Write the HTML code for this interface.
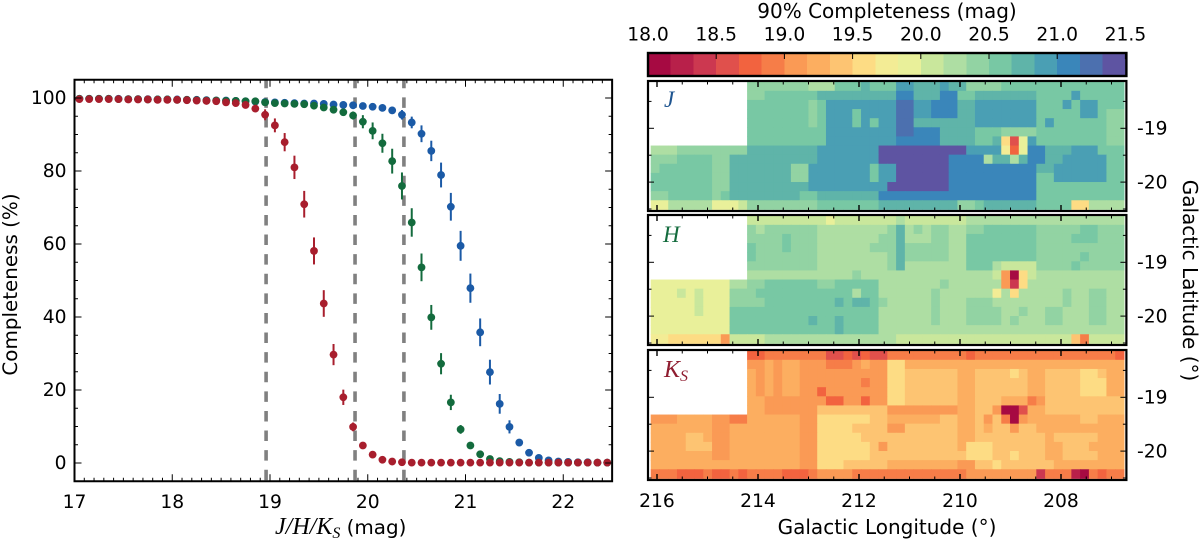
<!DOCTYPE html>
<html lang="en">
<head>
<meta charset="utf-8">
<title>Completeness</title>
<style>
html,body{margin:0;padding:0;background:#fff;width:1200px;height:541px;overflow:hidden}
svg{display:block}
text{font-family:"DejaVu Sans","Liberation Sans",sans-serif;fill:#000}
.math{font-family:"Liberation Serif",serif;font-style:italic}
</style>
</head>
<body>
<svg id="figure" xmlns="http://www.w3.org/2000/svg" width="1200" height="541" viewBox="0 0 1200 541">
  <g id="left-chart"></g>
  <g id="maps"></g>
  <g id="colorbar"></g>
  <text transform="translate(17,284.5) rotate(-90)" text-anchor="middle" font-size="19.9">Completeness (%)</text>
  <text x="275" y="534" font-size="19.9"><tspan class="math" font-size="24">J/H/K</tspan><tspan class="math" font-size="16" dy="4">S</tspan><tspan dy="-4"> (mag)</tspan></text>
  <text x="887" y="18" text-anchor="middle" font-size="20">90% Completeness (mag)</text>
  <text x="887" y="534" text-anchor="middle" font-size="20">Galactic Longitude (°)</text>
  <text transform="translate(1183,280.5) rotate(90)" text-anchor="middle" font-size="20">Galactic Latitude (°)</text>
  <text class="math" x="664" y="107" font-size="23" style="fill:#1f5590">J</text>
  <text class="math" x="663" y="242" font-size="23" style="fill:#136b3d">H</text>
  <text class="math" x="664" y="377" font-size="24" style="fill:#8f1d30">K<tspan font-size="16" dy="4">S</tspan></text>
</svg>
<script>
// ---- completeness curves ----
const magBins = [17.05,17.15,17.25,17.35,17.45,17.55,17.65,17.75,17.85,17.95,18.05,18.15,18.25,18.35,18.45,18.55,18.65,18.75,18.85,18.95,19.05,19.15,19.25,19.35,19.45,19.55,19.65,19.75,19.85,19.95,20.05,20.15,20.25,20.35,20.45,20.55,20.65,20.75,20.85,20.95,21.05,21.15,21.25,21.35,21.45,21.55,21.65,21.75,21.85,21.95,22.05,22.15,22.25,22.35,22.45];
const jCompleteness = [99.8,99.8,99.8,99.8,99.8,99.7,99.7,99.7,99.6,99.6,99.6,99.5,99.5,99.4,99.3,99.3,99.2,99.1,99.0,98.9,98.8,98.7,98.6,98.5,98.5,98.4,98.2,98.1,98,97.8,97.6,97.3,96.6,95.4,93.3,90.2,85.5,78.9,70.2,59.5,47.9,35.8,24.9,16.2,9.9,5.6,2.8,1.4,0.7,0.4,0.3,0.2,0.2,0.1,0.1];
const hCompleteness = [99.8,99.8,99.8,99.8,99.7,99.7,99.7,99.6,99.6,99.6,99.5,99.5,99.4,99.3,99.3,99.2,99.2,99.1,99.1,98.8,98.6,98.5,98.4,98.3,97.9,97.4,96.8,96.1,95.2,93.5,91,87.6,82.7,75.9,65.9,53.6,39.9,27.2,16.6,9.2,4.8,2.4,1.1,0.5,0.3,0.2,0.1,0.1,0.1,0.1,0.1,0.1,0.1,0.1,0.1];
const ksCompleteness = [99.7,99.7,99.7,99.7,99.7,99.6,99.6,99.6,99.5,99.5,99.5,99.4,99.3,99.2,99.1,98.8,98.6,98.1,97.1,95.4,92.5,87.9,81,70.9,58.1,43.7,29.7,18,9.9,4.8,2.3,0.9,0.4,0.2,0.1,0.1,0.1,0.1,0.1,0.1,0.1,0.1,0.1,0.1,0.1,0.1,0.1,0.1,0.1,0.1,0.1,0.1,0.1,0.1,0.1];
const jError = [0.1,0.1,0.1,0.1,0.1,0.1,0.1,0.1,0.1,0.1,0.1,0.1,0.1,0.1,0.1,0.2,0.2,0.2,0.2,0.2,0.2,0.2,0.2,0.2,0.3,0.3,0.3,0.3,0.3,0.4,0.5,0.7,1,1.3,1.6,2.3,2.8,3.4,3.8,4.1,4,3.8,3.4,2.7,1.8,0.9,0.5,0.3,0.2,0.1,0.1,0.1,0.1,0.1,0.1];
const hError = [0.1,0.1,0.1,0.1,0.1,0.1,0.1,0.1,0.1,0.1,0.1,0.1,0.1,0.1,0.1,0.2,0.2,0.2,0.2,0.2,0.3,0.3,0.3,0.3,0.4,0.5,0.6,0.8,1.1,1.8,2.3,2.6,3.4,3.7,3.9,3.8,3.4,2.9,2.1,1.2,0.6,0.3,0.2,0.1,0.1,0.1,0.1,0.1,0.1,0.1,0.1,0.1,0.1,0.1,0.1];
const ksError = [0.1,0.1,0.1,0.1,0.1,0.1,0.1,0.1,0.1,0.1,0.1,0.1,0.1,0.1,0.1,0.3,0.4,0.6,0.9,1.5,1.9,2.5,3.2,3.65,3.7,3.65,2.9,2.1,1.2,0.6,0.3,0.2,0.1,0.1,0.1,0.1,0.1,0.1,0.1,0.1,0.1,0.1,0.1,0.1,0.1,0.1,0.1,0.1,0.1,0.1,0.1,0.1,0.1,0.1,0.1];
const limitMags = [18.96,19.87,20.37];
const xTickLabels = [17,18,19,20,21,22];
const yTickLabels = [0,20,40,60,80,100];

// ---- colour scale ----
const colorbarTicks = [18.0,18.5,19.0,19.5,20.0,20.5,21.0,21.5];
const spectralBins = ['#a60a42','#b8204a','#cc3850','#e0504c','#f2633f','#f67d48','#fa9a55','#fcae60','#fdc472','#fddc84','#f3ec95','#e9f09a','#c9e79c','#aedea3','#92d3a3','#78c8a4','#5fb4a9','#4a9fb4','#3a86ba','#4c70af','#5e54a2'];

// ---- map axes ----
const lonTickLabels = [216,214,212,210,208];
const latTickLabels = [-19,-20];

// ---- 90% completeness maps: tenths of a magnitude per survey cell, 0 = no coverage ----
const jMapCells = [
[0,0,0,0,0,0,0,0,0,0,0,204,204,204,204,204,204,204,203,203,203,206,206,206,208,206,206,206,209,209,208,208,208,209,208,208,204,204,204,204,206,206,206,206,206,206,206,206,206,206,206,206,206,206],
[0,0,0,0,0,0,0,0,0,0,0,204,204,206,206,206,206,206,206,208,208,208,208,208,208,208,208,208,211,211,208,208,208,211,211,206,206,208,208,208,208,208,208,208,206,206,206,206,209,206,206,206,206,206],
[0,0,0,0,0,0,0,0,0,0,0,206,206,206,206,206,206,206,204,206,209,209,209,209,209,209,209,209,213,213,209,209,211,211,211,208,208,209,209,209,209,209,209,209,206,206,206,209,206,209,209,206,206,206],
[0,0,0,0,0,0,0,0,0,0,0,206,206,206,206,206,206,206,204,206,209,209,209,206,209,209,209,209,213,213,209,209,211,211,211,208,208,209,209,209,209,209,209,209,206,206,206,206,206,209,209,206,204,204],
[0,0,0,0,0,0,0,0,0,0,0,206,206,206,206,206,206,206,204,206,209,209,209,206,209,206,209,209,213,213,208,208,208,208,208,208,208,209,209,209,209,209,209,209,206,209,206,206,206,206,206,206,204,204],
[0,0,0,0,0,0,0,0,0,0,0,206,206,206,206,206,206,206,206,206,209,209,209,209,209,209,209,209,213,213,211,211,211,208,208,208,208,206,206,206,204,204,204,204,206,206,206,206,206,206,206,206,204,204],
[0,0,0,0,0,0,0,0,0,0,0,206,206,206,206,206,206,206,206,206,209,209,209,209,209,209,209,209,211,211,211,211,211,208,208,208,208,206,206,208,196,186,199,209,206,206,206,206,206,206,206,206,204,204],
[203,203,203,204,204,204,204,204,204,204,204,208,208,208,208,208,208,208,208,209,209,209,209,209,209,209,214,214,214,214,214,214,214,214,214,214,209,209,209,209,198,188,199,211,211,208,208,208,209,209,209,206,206,206],
[204,204,204,206,206,206,206,204,204,208,208,208,208,208,208,208,208,208,208,209,209,209,209,209,209,209,214,214,214,214,214,214,214,214,211,211,211,211,203,208,208,203,208,211,211,208,208,209,209,209,209,209,206,206],
[204,206,206,206,206,206,206,204,204,208,208,208,208,208,208,208,204,204,209,209,209,209,209,209,209,206,209,209,214,214,214,214,214,214,211,211,211,211,211,211,211,211,211,211,208,208,209,209,209,209,209,209,206,206],
[206,206,206,206,206,206,206,204,204,208,208,208,208,208,208,208,204,204,209,209,209,209,209,209,209,206,209,209,214,214,214,214,214,214,211,211,211,211,211,211,211,211,211,211,206,206,209,209,209,209,209,209,206,206],
[206,206,206,206,206,206,206,204,204,208,208,208,208,208,208,208,208,208,209,209,209,209,209,209,209,209,209,214,214,214,214,214,214,214,211,211,211,211,211,211,211,211,211,211,206,206,206,206,206,206,206,206,206,206],
[204,204,206,206,206,206,206,204,206,208,208,208,208,208,208,208,208,206,206,208,208,208,208,208,208,208,211,211,211,211,211,211,211,211,211,211,211,211,211,211,211,211,211,211,206,206,206,206,206,206,206,206,206,206],
[199,199,203,203,203,203,203,199,199,199,201,204,204,204,204,204,204,204,204,206,206,206,206,206,206,206,208,208,208,208,208,208,208,208,208,204,204,206,208,208,208,208,208,208,206,206,206,206,196,196,203,203,203,203]
];
const hMapCells = [
[0,0,0,0,0,0,0,0,0,0,0,201,201,201,201,201,201,201,201,201,199,201,201,201,201,201,201,201,203,201,201,201,201,201,201,201,203,203,203,203,203,203,203,203,203,203,203,203,203,203,203,203,203,203],
[0,0,0,0,0,0,0,0,0,0,0,204,203,204,204,204,204,204,204,203,203,203,203,203,203,203,203,204,208,203,204,203,204,204,203,203,204,204,206,206,206,206,206,206,204,204,204,204,204,206,206,204,204,204],
[0,0,0,0,0,0,0,0,0,0,0,204,204,204,204,206,204,204,204,203,203,203,203,203,203,203,204,204,208,203,203,203,204,204,203,203,206,206,206,206,206,206,206,206,204,204,204,204,206,206,206,204,204,204],
[0,0,0,0,0,0,0,0,0,0,0,206,204,204,204,206,204,204,204,203,203,203,203,203,203,204,204,204,208,204,204,204,204,204,203,203,206,206,206,206,206,206,206,206,204,204,204,204,204,204,204,204,204,204],
[0,0,0,0,0,0,0,0,0,0,0,206,204,204,204,204,204,204,204,203,203,203,203,203,203,203,203,204,208,204,204,204,204,204,203,203,206,206,206,206,206,206,206,206,204,204,204,204,204,206,204,204,204,204],
[0,0,0,0,0,0,0,0,0,0,0,204,204,204,204,204,204,204,204,203,203,203,203,203,203,203,203,204,208,203,203,203,203,203,203,203,206,206,206,203,201,201,201,201,204,204,204,204,206,204,204,204,204,204],
[0,0,0,0,0,0,0,0,0,0,0,203,203,203,203,203,203,203,203,203,203,203,203,204,203,203,203,203,203,203,203,203,203,203,203,203,203,203,203,201,191,181,196,201,203,203,203,203,203,203,203,203,203,203],
[199,199,199,199,199,199,199,199,199,203,203,204,204,206,206,206,206,206,206,204,204,206,206,206,206,206,203,203,203,203,203,203,203,204,203,203,203,203,203,203,191,184,196,203,203,203,203,203,203,203,203,203,203,203],
[199,199,199,201,199,201,199,199,199,204,204,204,206,206,206,206,206,206,206,206,206,206,206,203,206,206,203,203,203,203,203,203,204,203,203,203,203,203,203,198,203,196,203,203,203,203,203,204,203,203,204,204,203,203],
[199,199,199,199,199,201,199,199,199,204,204,204,204,206,206,206,206,206,206,206,206,208,206,208,208,206,204,203,203,203,203,203,204,203,203,203,204,204,204,203,203,203,203,203,203,203,203,204,203,203,204,204,203,203],
[199,199,199,199,199,201,199,199,199,206,206,206,206,206,206,206,206,206,206,206,206,206,206,206,206,206,203,203,203,203,203,203,204,203,203,203,204,204,204,204,203,203,204,203,203,204,204,203,203,203,204,204,203,203],
[199,199,199,199,199,199,199,199,199,206,206,206,206,206,206,206,206,206,208,206,206,208,206,206,206,206,203,203,203,203,203,203,204,203,203,203,204,204,204,204,203,204,203,203,203,204,204,203,203,203,204,204,203,203],
[199,199,199,199,199,199,199,199,199,206,206,206,206,206,206,206,206,206,206,206,206,208,206,206,206,206,203,203,203,203,203,203,203,203,203,203,203,203,203,203,203,203,203,203,203,203,203,203,203,203,203,203,203,203],
[198,198,196,196,196,196,196,196,191,201,201,201,201,203,203,203,203,203,203,203,203,203,203,203,203,203,203,203,201,201,201,201,201,201,201,201,201,201,201,201,201,201,201,201,201,201,201,201,194,189,201,201,201,201]
];
const ksMapCells = [
[0,0,0,0,0,0,0,0,0,0,0,188,188,189,189,189,189,189,189,189,186,186,188,186,188,186,186,189,189,189,189,189,189,189,189,189,188,189,189,189,189,189,189,189,189,189,189,189,189,189,189,189,189,188],
[0,0,0,0,0,0,0,0,0,0,0,191,191,193,191,193,193,191,191,191,189,189,189,191,193,191,191,196,196,193,193,193,193,193,193,193,193,193,193,193,193,193,193,193,193,193,193,193,193,193,193,193,193,193],
[0,0,0,0,0,0,0,0,0,0,0,193,191,193,191,193,193,191,191,191,191,191,191,191,191,191,191,196,196,194,194,194,194,194,194,193,193,194,194,194,194,196,194,193,193,194,194,194,194,196,196,194,193,193],
[0,0,0,0,0,0,0,0,0,0,0,193,191,193,191,193,193,191,191,191,191,191,191,191,189,191,191,196,196,194,194,194,194,194,194,193,193,194,194,194,194,194,194,193,193,194,194,194,194,196,196,196,193,193],
[0,0,0,0,0,0,0,0,0,0,0,193,191,193,191,193,193,191,191,188,191,191,191,191,191,191,191,196,196,194,194,194,194,194,194,193,193,194,194,194,194,194,194,193,193,194,194,194,194,196,196,196,193,193],
[0,0,0,0,0,0,0,0,0,0,0,193,193,191,191,191,191,191,191,191,188,188,191,191,188,191,191,196,196,194,194,194,194,194,194,193,193,194,194,194,193,193,193,189,191,194,194,194,194,194,194,194,194,194],
[0,0,0,0,0,0,0,0,0,0,0,193,193,191,191,191,191,191,191,194,194,194,194,194,194,194,194,191,191,191,191,191,191,191,191,193,193,194,194,191,181,181,186,193,193,194,194,194,194,194,194,194,194,194],
[191,191,191,193,193,193,193,191,191,189,189,193,193,193,193,193,193,191,191,196,196,196,196,196,196,194,194,193,193,193,193,193,193,194,194,193,193,194,191,194,189,181,191,193,193,193,193,193,193,194,194,193,193,193],
[193,193,193,193,193,193,193,191,191,193,193,193,193,193,193,193,193,191,191,196,196,196,196,194,194,194,194,191,191,194,194,194,194,194,194,193,193,194,193,194,194,191,194,194,193,193,193,193,193,193,193,193,193,193],
[193,193,193,193,194,194,193,191,191,193,193,193,193,193,193,193,193,191,191,196,196,196,196,196,194,194,194,194,194,194,194,194,194,194,194,193,193,194,194,194,194,194,194,194,194,193,194,194,194,194,194,193,193,193],
[193,193,193,193,194,194,194,191,191,193,193,193,193,193,193,193,193,191,191,196,196,196,196,196,196,194,191,194,194,194,194,194,194,194,194,193,196,196,196,194,194,194,194,194,194,193,193,194,194,194,193,193,193,193],
[193,193,193,193,193,193,193,191,191,193,193,193,193,193,193,193,193,191,191,196,196,196,196,196,196,194,194,194,194,194,194,194,194,194,194,194,196,196,196,194,194,196,194,194,194,193,193,194,194,194,194,193,193,193],
[193,193,193,193,193,193,193,193,193,193,193,193,193,193,193,193,193,191,191,196,196,196,194,194,194,194,194,193,193,193,193,193,193,193,193,191,191,194,194,196,194,194,194,194,194,194,193,193,193,193,193,193,193,193],
[189,189,189,188,188,188,189,188,188,189,188,189,189,189,189,188,188,188,189,191,191,191,191,189,189,189,189,189,189,189,189,189,189,189,189,189,191,191,191,191,191,191,191,191,184,189,189,189,183,181,189,188,189,189]
];

// ---- drawing ----
const SVGNS = 'http://www.w3.org/2000/svg';
function make(parent, tag, attrs, text) {
  const el = document.createElementNS(SVGNS, tag);
  for (const k in attrs) el.setAttribute(k, attrs[k]);
  if (text !== undefined) el.textContent = text;
  parent.appendChild(el);
  return el;
}

// left chart axes
const chart = document.getElementById('left-chart');
const xMag = m => 74.5 + (m - 17) * 97.75;
const yPct = v => 463 - v * 3.65;
const plotL = xMag(17), plotR = xMag(22.5), plotT = yPct(105), plotB = yPct(-5);

limitMags.forEach(function (m) {
  const el = make(chart, 'line', {x1: xMag(m), x2: xMag(m), y1: plotB - 1, y2: plotT, stroke: '#808080', 'stroke-width': 3.6, 'stroke-dasharray': '10.5 9.1'});
  
  
});

function drawSeries(values, errors, color, name) {
  const g = make(chart, 'g', {});
  
  
  values.forEach(function (v, i) {
    const x = xMag(magBins[i]);
    const bar = make(g, 'line', {x1: x, x2: x, y1: yPct(v - errors[i]), y2: yPct(v + errors[i]), stroke: color, 'stroke-width': 2});
    
    
    const dot = make(g, 'circle', {cx: x, cy: yPct(v), r: 3.9, fill: color});
    
    
  });
}
drawSeries(jCompleteness, jError, '#1b5aa6', 'j-band');
drawSeries(hCompleteness, hError, '#136b3d', 'h-band');
drawSeries(ksCompleteness, ksError, '#a81e2d', 'ks-band');

const chartFrame = make(chart, 'rect', {x: plotL, y: plotT, width: plotR - plotL, height: plotB - plotT, fill: 'none', stroke: '#000', 'stroke-width': 2});



function tickLine(parent, x1, y1, x2, y2, w, name) {
  const t = make(parent, 'line', {x1: x1, y1: y1, x2: x2, y2: y2, stroke: '#000', 'stroke-width': w});
  
  
}
for (let k = 1; k < 55; k++) {
  const m = 17 + k / 10;
  const major = k % 10 === 0;
  const len = major ? 7 : 3.5;
  tickLine(chart, xMag(m), plotB, xMag(m), plotB - len, 1, 'x-tick');
  tickLine(chart, xMag(m), plotT, xMag(m), plotT + len, 1, 'x-tick');
}
for (let v = 0; v <= 105; v += 5) {
  const len = v % 20 === 0 ? 7 : 3.5;
  tickLine(chart, plotL, yPct(v), plotL + len, yPct(v), 1, 'y-tick');
  tickLine(chart, plotR, yPct(v), plotR - len, yPct(v), 1, 'y-tick');
}
xTickLabels.forEach(function (m) {
  const t = make(chart, 'text', {x: xMag(m), y: 508, 'text-anchor': 'middle', 'font-size': 18.7}, String(m));
  
  
});
yTickLabels.forEach(function (v) {
  const t = make(chart, 'text', {x: 66.5, y: yPct(v) + 6.2, 'text-anchor': 'end', 'font-size': 18.7}, String(v));
  
  
});

// colour scale
const magToBin = mag => Math.max(0, Math.min(spectralBins.length - 1, Math.floor((mag - 18) * 6)));
const magToColor = mag => spectralBins[magToBin(mag)];
const xBar = mag => 648 + (mag - 18) * 136.4;
const cbar = document.getElementById('colorbar');
spectralBins.forEach(function (c, i) {
  const left = xBar(18 + i / 6);
  const r = make(cbar, 'rect', {x: left, y: 53, width: xBar(18 + (i + 1) / 6) - left + 0.4, height: 23, fill: c, 'shape-rendering': 'crispEdges'});
  
  
});
const cbarFrame = make(cbar, 'rect', {x: 648, y: 53, width: 478.4, height: 23, fill: 'none', stroke: '#000', 'stroke-width': 2.4});


colorbarTicks.forEach(function (m) {
  tickLine(cbar, xBar(m), 53, xBar(m), 59, 1, 'colorbar-tick');
  const t = make(cbar, 'text', {x: xBar(m), y: 40.7, 'text-anchor': 'middle', 'font-size': 18.7}, m.toFixed(1));
  
  
});

// sky maps
const maps = document.getElementById('maps');
const xLon = lon => 657 + (216 - lon) * 50.5;
const LEFT_LON = 216.125, CELL_LON = 0.17355, TOP_LAT = -18.134, CELL_LAT = 0.1695;
function drawMap(cells, top, name) {
  const yLat = lat => top + 47.3 + (-19 - lat) * 53.8;
  const g = make(maps, 'g', {});
  
  
  cells.forEach(function (row, r) {
    row.forEach(function (value, c) {
      if (!value) return;
      const x = xLon(LEFT_LON - c * CELL_LON);
      const y = yLat(TOP_LAT - r * CELL_LAT);
      const cell = make(g, 'rect', {x: x, y: y, width: xLon(LEFT_LON - (c + 1) * CELL_LON) - x + 0.5, height: yLat(TOP_LAT - (r + 1) * CELL_LAT) - y + 0.5, fill: magToColor(value / 10)});
      
      
    });
  });
  const frame = make(g, 'rect', {x: 648, y: top, width: 478.4, height: 130, fill: 'none', stroke: '#000', 'stroke-width': 2.2});
  
  
  for (let lon = 216; lon >= 207; lon -= 0.5) {
    const major = lon % 2 === 0;
    const len = major ? 6 : 3.5;
    tickLine(g, xLon(lon), top, xLon(lon), top + len, major ? 1.4 : 1, 'longitude-tick');
    tickLine(g, xLon(lon), top + 130, xLon(lon), top + 130 - len, major ? 1.4 : 1, 'longitude-tick');
  }
  for (let lat = -18.5; lat >= -20.5; lat -= 0.5) {
    const major = lat % 1 === 0;
    const len = major ? 6 : 3.5;
    tickLine(g, 648, yLat(lat), 648 + len, yLat(lat), 1, 'latitude-tick');
    tickLine(g, 1126.4, yLat(lat), 1126.4 - len, yLat(lat), 1, 'latitude-tick');
  }
  latTickLabels.forEach(function (lat) {
    const t = make(g, 'text', {x: 1137, y: yLat(lat) + 6.4, 'font-size': 18.7}, String(lat));
    
    
  });
}
drawMap(jMapCells, 81, 'j-band');
drawMap(hMapCells, 215, 'h-band');
drawMap(ksMapCells, 350, 'ks-band');
lonTickLabels.forEach(function (lon) {
  const t = make(maps, 'text', {x: xLon(lon), y: 507, 'text-anchor': 'middle', 'font-size': 18.7}, String(lon));
  
  
});
</script>
</body>
</html>
